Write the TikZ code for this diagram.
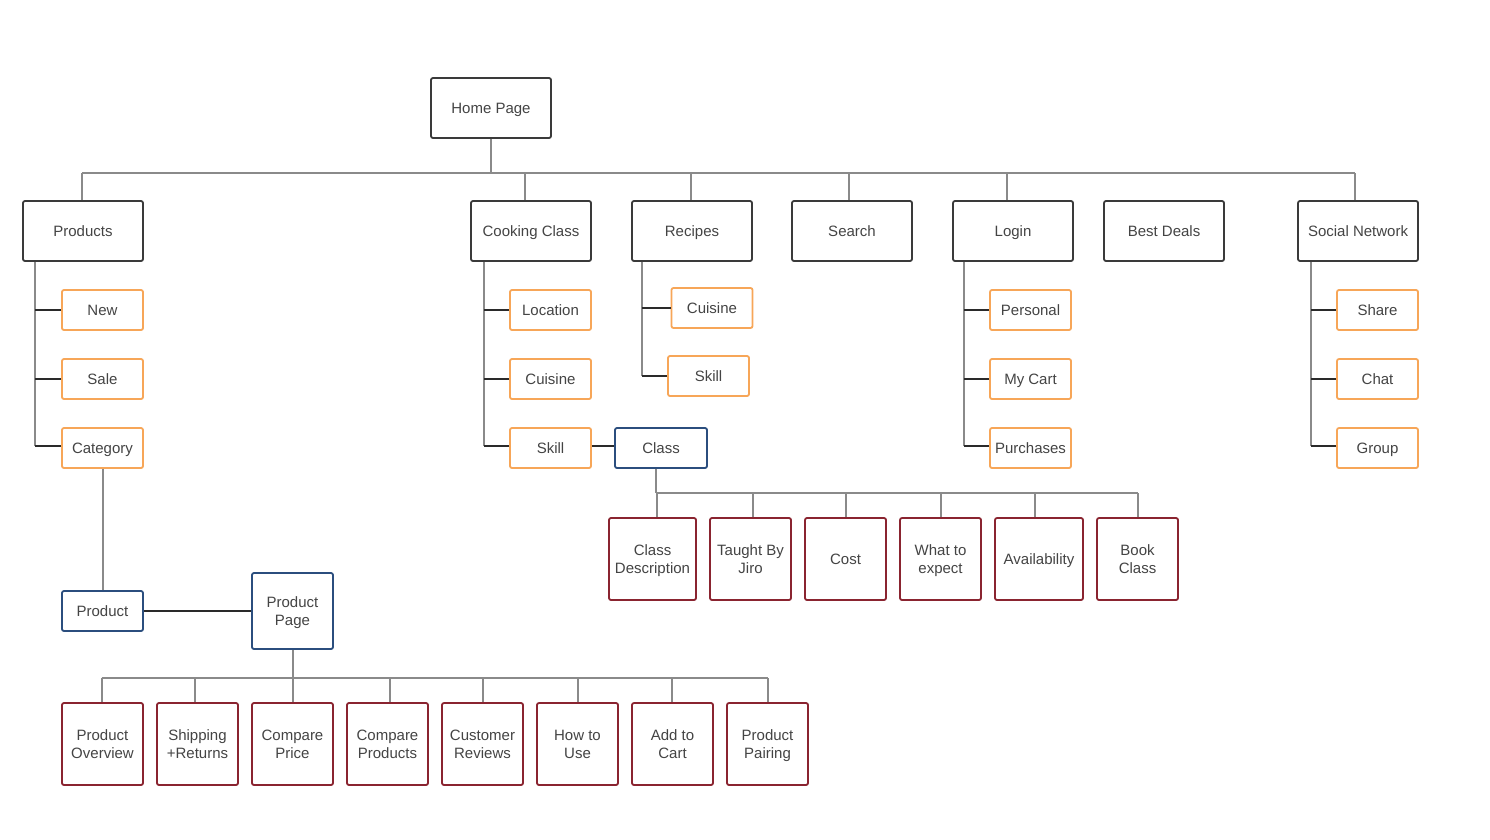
\documentclass[tikz,border=0pt]{standalone}
\usepackage{fontspec}
\setmainfont{Liberation Sans}
\definecolor{txt}{HTML}{444444}
\definecolor{mainb}{HTML}{3A3A3A}
\definecolor{orb}{HTML}{F7A658}
\definecolor{blb}{HTML}{2B4E7E}
\definecolor{rdb}{HTML}{8A2430}
\definecolor{conc}{HTML}{8A8A8A}
\definecolor{stubc}{HTML}{2A2A2A}
\tikzset{
  box/.style={rectangle, rounded corners=2pt, line width=1.8pt, inner sep=0pt, align=center,
    text=txt, font=\fontsize{15}{18}\selectfont, fill=white, text depth=0pt},
  oneline/.style={text height=11pt},
  mainbox/.style={box, oneline, draw=mainb, minimum width=120pt, minimum height=60pt},
  subbox/.style={box, oneline, draw=orb, minimum width=81pt, minimum height=40pt},
  bluebox/.style={box, draw=blb},
  leafbox/.style={box, draw=rdb, minimum width=81pt, minimum height=82pt},
  conn/.style={draw=conc, line width=2pt},
  stub/.style={draw=stubc, line width=1.1pt},
}
\begin{document}
\begin{tikzpicture}[x=1pt,y=-1pt]
\useasboundingbox[fill=white] (0,0) rectangle (1490,839);
% level 0/1
\node[mainbox] (home) at (491,108) {Home Page};
\node[mainbox] (products) at (83,231) {Products};
\node[mainbox] (cc) at (531,231) {Cooking Class};
\node[mainbox] (recipes) at (692,231) {Recipes};
\node[mainbox] (search) at (852,231) {Search};
\node[mainbox] (login) at (1013,231) {Login};
\node[mainbox] (deals) at (1164,231) {Best Deals};
\node[mainbox] (social) at (1358,231) {Social Network};
% bus
\coordinate (bus) at (0,173);
\draw[conn] (home.south) -- (home.south |- bus);
\draw[conn] ([xshift=-1pt]products.north |- bus) -- ([xshift=-3pt]social.north |- bus);
\draw[conn] ([xshift=-1pt]products.north |- bus) -- ([xshift=-1pt]products.north);
\draw[conn] ([xshift=-6pt]cc.north |- bus) -- ([xshift=-6pt]cc.north);
\draw[conn] ([xshift=-1pt]recipes.north |- bus) -- ([xshift=-1pt]recipes.north);
\draw[conn] ([xshift=-3pt]search.north |- bus) -- ([xshift=-3pt]search.north);
\draw[conn] ([xshift=-6pt]login.north |- bus) -- ([xshift=-6pt]login.north);
\draw[conn] ([xshift=-3pt]social.north |- bus) -- ([xshift=-3pt]social.north);
% Products children
\node[subbox] (new) at (102.5,310) {New};
\node[subbox] (sale) at (102.5,379) {Sale};
\node[subbox] (category) at (102.5,448) {Category};
\coordinate (pv) at ([xshift=13pt]products.south west);
\draw[conn] (pv) -- (pv |- 0,446);
\draw[stub] (new.west) -- (new.west -| pv);
\draw[stub] (sale.west) -- (sale.west -| pv);
\draw[stub] ([yshift=2pt]category.west) -- ([yshift=2pt]category.west -| pv);
% Cooking class children
\node[subbox] (loc) at (550.5,310) {Location};
\node[subbox] (cuis1) at (550.5,379) {Cuisine};
\node[subbox] (skill1) at (550.5,448) {Skill};
\coordinate (cv) at ([xshift=14pt]cc.south west);
\draw[conn] (cv) -- (cv |- 0,446);
\draw[stub] (loc.west) -- (loc.west -| cv);
\draw[stub] (cuis1.west) -- (cuis1.west -| cv);
\draw[stub] ([yshift=2pt]skill1.west) -- ([yshift=2pt]skill1.west -| cv);
% Recipes children
\node[subbox] (cuis2) at (712,308) {Cuisine};
\node[subbox] (skill2) at (708.5,376) {Skill};
\coordinate (rv) at ([xshift=11pt]recipes.south west);
\draw[conn] (rv) -- (rv |- skill2.west);
\draw[stub] (cuis2.west) -- (cuis2.west -| rv);
\draw[stub] (skill2.west) -- (skill2.west -| rv);
% Login children
\node[subbox] (personal) at (1030.5,310) {Personal};
\node[subbox] (cart) at (1030.5,379) {My Cart};
\node[subbox] (purch) at (1030.5,448) {Purchases};
\coordinate (lv) at ([xshift=12pt]login.south west);
\draw[conn] (lv) -- (lv |- 0,446);
\draw[stub] (personal.west) -- (personal.west -| lv);
\draw[stub] (cart.west) -- (cart.west -| lv);
\draw[stub] ([yshift=2pt]purch.west) -- ([yshift=2pt]purch.west -| lv);
% Social children
\node[subbox] (share) at (1377.5,310) {Share};
\node[subbox] (chat) at (1377.5,379) {Chat};
\node[subbox] (group) at (1377.5,448) {Group};
\coordinate (sv) at ([xshift=14pt]social.south west);
\draw[conn] (sv) -- (sv |- 0,446);
\draw[stub] (share.west) -- (share.west -| sv);
\draw[stub] (chat.west) -- (chat.west -| sv);
\draw[stub] ([yshift=2pt]group.west) -- ([yshift=2pt]group.west -| sv);
% Class
\node[bluebox, oneline, minimum width=92pt, minimum height=40pt] (class) at (661,448) {Class};
\draw[stub] ([yshift=2pt]skill1.east) -- ([yshift=2pt]class.west);
\node[leafbox, minimum width=87pt] (cdesc) at (652.5,559) {Class\\Description};
\node[leafbox] (taught) at (750.5,559) {Taught By\\Jiro};
\node[leafbox, oneline] (cost) at (845.5,559) {Cost};
\node[leafbox] (expect) at (940.5,559) {What to\\expect};
\node[leafbox, oneline, minimum width=88pt] (avail) at (1039,559) {Availability};
\node[leafbox] (book) at (1137.5,559) {Book\\Class};
\coordinate (cbus) at (0,493);
\draw[conn] ([xshift=-5pt]class.south) -- ([xshift=-5pt]class.south |- cbus);
\draw[conn] ([xshift=4pt]cdesc.north |- cbus) -- (book.north |- cbus);
\draw[conn] ([xshift=4pt]cdesc.north |- cbus) -- ([xshift=4pt]cdesc.north);
\draw[conn] ([xshift=2pt]taught.north |- cbus) -- ([xshift=2pt]taught.north);
\draw[conn] (cost.north |- cbus) -- (cost.north);
\draw[conn] (expect.north |- cbus) -- (expect.north);
\draw[conn] ([xshift=-4pt]avail.north |- cbus) -- ([xshift=-4pt]avail.north);
\draw[conn] (book.north |- cbus) -- (book.north);
% Product
\node[bluebox, oneline, minimum width=81pt, minimum height=40pt] (product) at (102.5,611) {Product};
\node[bluebox, minimum width=81pt, minimum height=76pt] (ppage) at (292.5,611) {Product\\Page};
\draw[conn] (category.south) -- (product.north);
\draw[stub] (product.east) -- (ppage.west);
% product page leaves
\node[leafbox] (l1) at (102.5,744) {Product\\Overview};
\node[leafbox] (l2) at (197.5,744) {Shipping\\+Returns};
\node[leafbox] (l3) at (292.5,744) {Compare\\Price};
\node[leafbox] (l4) at (387.5,744) {Compare\\Products};
\node[leafbox] (l5) at (482.5,744) {Customer\\Reviews};
\node[leafbox] (l6) at (577.5,744) {How to\\Use};
\node[leafbox] (l7) at (672.5,744) {Add to\\Cart};
\node[leafbox] (l8) at (767.5,744) {Product\\Pairing};
\coordinate (pbus) at (0,678);
\draw[conn] (ppage.south) -- (ppage.south |- pbus);
\draw[conn] ([xshift=-1pt]l1.north |- pbus) -- (l8.north |- pbus);
\draw[conn] ([xshift=-1pt]l1.north |- pbus) -- ([xshift=-1pt]l1.north);
\draw[conn] ([xshift=-3pt]l2.north |- pbus) -- ([xshift=-3pt]l2.north);
\draw[conn] (l3.north |- pbus) -- (l3.north);
\draw[conn] ([xshift=2pt]l4.north |- pbus) -- ([xshift=2pt]l4.north);
\draw[conn] (l5.north |- pbus) -- (l5.north);
\draw[conn] (l6.north |- pbus) -- (l6.north);
\draw[conn] ([xshift=-1pt]l7.north |- pbus) -- ([xshift=-1pt]l7.north);
\draw[conn] (l8.north |- pbus) -- (l8.north);
\end{tikzpicture}
\end{document}
